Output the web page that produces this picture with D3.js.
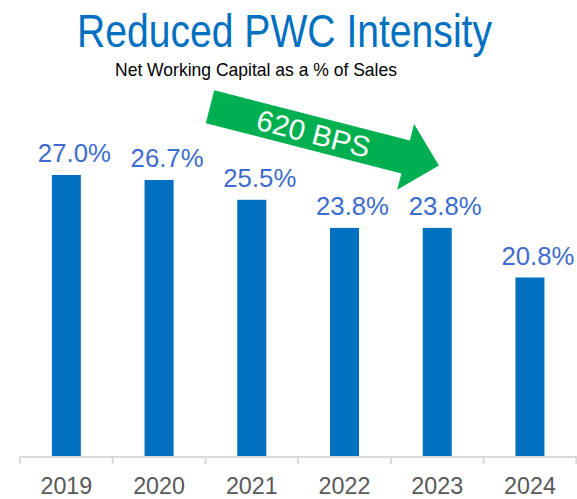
<!DOCTYPE html>
<html>
<head>
<meta charset="utf-8">
<script src="https://cdn.jsdelivr.net/npm/d3@7/dist/d3.min.js"></script>
<style>
  html, body { margin: 0; padding: 0; background: #fff; }
  svg { display: block; font-family: "Liberation Sans", Arial, sans-serif; }
</style>
</head>
<body>
<svg id="chart" width="577" height="499"></svg>
<script>
const years = ["2019", "2020", "2021", "2022", "2023", "2024"];
const values = [27.0, 26.7, 25.5, 23.8, 23.8, 20.8];
const valueLabels = ["27.0%", "26.7%", "25.5%", "23.8%", "23.8%", "20.8%"];
const titleText = "Reduced PWC Intensity";
const subtitleText = "Net Working Capital as a % of Sales";
const arrowText = "620 BPS";

const svg = d3.select("#chart");

const x = d3.scaleBand().domain(years).range([20, 576.3]).paddingInner(0.687).paddingOuter(0.3435);
const y = d3.scaleLinear().domain([10, 30]).range([456, 125.4]);

// Title
svg.append("text")
  .attr("x", 284.5).attr("y", 46.7)
  .attr("text-anchor", "middle")
  .attr("font-size", 46)
  .attr("textLength", 415).attr("lengthAdjust", "spacingAndGlyphs")
  .attr("fill", "#0070c0")
  .text(titleText);

svg.append("text")
  .attr("x", 115).attr("y", 76)
  .attr("font-size", 17.7)
  .attr("textLength", 282).attr("lengthAdjust", "spacingAndGlyphs")
  .attr("fill", "#000")
  .text(subtitleText);

// Bars
svg.append("g").selectAll("rect").data(years).join("rect")
  .attr("x", d => x(d))
  .attr("width", x.bandwidth())
  .attr("y", (d, i) => y(values[i]))
  .attr("height", (d, i) => y(10) - y(values[i]))
  .attr("fill", "#0070c0");

// Axis
const axis = svg.append("g").attr("transform", "translate(0,457)")
  .call(d3.axisBottom(x).tickSize(0).tickPadding(0).tickFormat(""));
axis.select(".domain").remove();
axis.append("line").attr("x1", 20).attr("x2", 577).attr("y1", 0).attr("y2", 0)
  .attr("stroke", "#d9d9d9").attr("stroke-width", 2);
const step = x.step();
const bounds = years.map((d, i) => 20 + i * step).concat([20 + years.length * step]);
axis.selectAll(".bnd").data(bounds).join("line").attr("class", "bnd")
  .attr("x1", d => d).attr("x2", d => d).attr("y1", 0).attr("y2", 7)
  .attr("stroke", "#d9d9d9").attr("stroke-width", 2);
axis.selectAll(".yr").data(years).join("text").attr("class", "yr")
  .attr("x", d => x(d) + x.bandwidth() / 2)
  .attr("y", 37)
  .attr("text-anchor", "middle")
  .attr("font-size", 23.3)
  .attr("fill", "#595959")
  .text(d => d);

// Value labels
svg.append("g").selectAll("text").data(years).join("text")
  .attr("x", d => x(d) + x.bandwidth() / 2 + 8)
  .attr("y", (d, i) => y(values[i]) - 12.5)
  .attr("text-anchor", "middle")
  .attr("font-size", 25)
  .attr("textLength", 73).attr("lengthAdjust", "spacingAndGlyphs")
  .attr("fill", "#3d6cce")
  .text((d, i) => valueLabels[i]);

// Arrow
const ag = svg.append("g").attr("transform", "translate(210,106.7) rotate(14.4)");
const sw = 17, hb = 202, hw = 34, tip = 236.3;
ag.append("path")
  .attr("d", `M0,${-sw} L${hb},${-sw} L${hb},${-hw} L${tip},0 L${hb},${hw} L${hb},${sw} L0,${sw} Z`)
  .attr("fill", "#00b050");
ag.append("text")
  .attr("x", 107).attr("y", 10.5)
  .attr("text-anchor", "middle")
  .attr("font-size", 29)
  .attr("textLength", 116).attr("lengthAdjust", "spacingAndGlyphs")
  .attr("fill", "#fff")
  .text(arrowText);
</script>
</body>
</html>
